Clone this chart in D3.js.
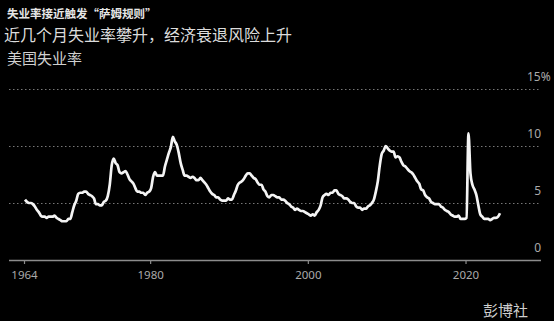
<!DOCTYPE html>
<html>
<head>
<meta charset="utf-8">
<script src="https://cdn.jsdelivr.net/npm/d3@7"></script>
<style>
  html, body { margin: 0; padding: 0; background: #000; }
  svg { display: block; font-family: "Noto Sans CJK SC", "Noto Sans", sans-serif; }
</style>
</head>
<body>
<div id="chart"></div>
<script>
// Quarterly US unemployment rate (%), 1964 Q1 .. 2024 Q2
var startYear = 1964
var rates = [
  5.3, 5.1, 5.0, 5.0,   4.9, 4.7, 4.4, 4.2,   3.9, 3.8, 3.8, 3.7,   3.8, 3.8, 3.8, 3.9,
  3.7, 3.6, 3.5, 3.4,   3.4, 3.4, 3.6, 3.6,   4.2, 4.8, 5.2, 5.8,   5.9, 5.9, 6.0, 6.0,
  5.8, 5.7, 5.6, 5.4,   4.9, 4.9, 4.8, 4.8,   5.1, 5.2, 5.6, 6.6,   8.3, 8.9, 8.5, 8.3,
  7.7, 7.6, 7.7, 7.8,   7.5, 7.1, 6.9, 6.7,   6.3, 6.0, 6.0, 5.9,   5.9, 5.7, 5.9, 6.0,
  6.3, 7.3, 7.7, 7.4,   7.4, 7.4, 7.4, 8.2,   8.8, 9.4, 9.9, 10.8,  10.4, 10.1, 9.4, 8.5,
  7.9, 7.4, 7.4, 7.3,   7.2, 7.3, 7.2, 7.0,   7.0, 7.2, 7.0, 6.8,   6.6, 6.3, 6.0, 5.8,
  5.7, 5.5, 5.5, 5.3,   5.2, 5.2, 5.2, 5.4,   5.3, 5.3, 5.7, 6.1,   6.6, 6.8, 6.9, 7.1,
  7.4, 7.6, 7.6, 7.4,   7.2, 7.1, 6.8, 6.6,   6.6, 6.2, 6.0, 5.6,   5.5, 5.7, 5.7, 5.6,
  5.5, 5.5, 5.3, 5.3,   5.2, 5.0, 4.9, 4.7,   4.6, 4.4, 4.5, 4.4,   4.3, 4.3, 4.2, 4.1,
  4.0, 3.9, 4.0, 3.9,   4.2, 4.4, 4.8, 5.5,   5.7, 5.8, 5.7, 5.9,   5.9, 6.1, 6.1, 5.8,
  5.7, 5.6, 5.4, 5.4,   5.3, 5.1, 5.0, 5.0,   4.7, 4.6, 4.6, 4.4,   4.5, 4.5, 4.7, 4.8,
  5.0, 5.3, 6.0, 6.9,   8.3, 9.3, 9.6, 10.0,  9.8, 9.6, 9.5, 9.5,   9.0, 9.1, 9.0, 8.6,
  8.3, 8.2, 8.0, 7.8,   7.7, 7.5, 7.2, 6.9,   6.7, 6.2, 6.1, 5.7,   5.5, 5.4, 5.1, 5.0,
  4.9, 4.9, 4.9, 4.7,   4.6, 4.4, 4.3, 4.2,   4.0, 3.9, 3.8, 3.8,   3.9, 3.6, 3.6, 3.6,
  3.7, 11.1, 7.6, 6.6,  6.2, 5.7, 4.8, 4.0,   3.8, 3.6, 3.6, 3.6,   3.5, 3.6, 3.7, 3.7,
  3.8, 4.1
]
var yearTicks = [1964, 1980, 2000, 2020]
var rateTicks = [0, 5, 10, 15]

var title = "失业率接近触发“萨姆规则”"
var subtitle = "近几个月失业率攀升，经济衰退风险上升"
var chartLabel = "美国失业率"
var source = "彭博社"

var width = 554, height = 321

var svg = d3.select("#chart")
  .append("svg")
  .attr("width", width)
  .attr("height", height)

svg.append("rect")
  .attr("width", width)
  .attr("height", height)
  .attr("fill", "#000")

// Headings
svg.append("text")
  .attr("x", 7).attr("y", 18)
  .attr("fill", "#e6e6e6")
  .style("font-size", "11.5px")
  .style("font-weight", "bold")
  .text(title)

svg.append("text")
  .attr("x", 4).attr("y", 41)
  .attr("fill", "#dcdcdc")
  .style("font-size", "16px")
  .text(subtitle)

svg.append("text")
  .attr("x", 7).attr("y", 64)
  .attr("fill", "#d0d0d0")
  .style("font-size", "15px")
  .text(chartLabel)

svg.append("text")
  .attr("x", 528).attr("y", 316)
  .attr("text-anchor", "end")
  .attr("fill", "#cfcfcf")
  .style("font-size", "15px")
  .text(source)

// Scales
var data = rates.map(function(v, i) {
  return { t: startYear + i / 4 + 0.125, v: v }
})

var x = d3.scaleLinear()
  .domain([1964, 2024.5])
  .range([24, 501])

var y = d3.scaleLinear()
  .domain([0, 15])
  .range([260, 89])

var gridLeft = 9, gridRight = 541

// Y gridlines + labels (right side, labels above lines)
var yAxis = svg.append("g")
  .attr("transform", "translate(" + gridLeft + ",0)")
  .call(d3.axisRight(y)
    .tickValues(rateTicks)
    .tickSize(gridRight - gridLeft)
    .tickFormat(function(d) { return d }))

yAxis.select(".domain").remove()
yAxis.selectAll(".tick line")
  .attr("stroke", function(d) { return d === 0 ? "#8c8c8c" : "#777" })
  .attr("stroke-width", function(d) { return d === 0 ? 1.6 : 1 })
  .attr("stroke-dasharray", function(d) { return d === 0 ? null : "1.5,2.5" })
yAxis.selectAll(".tick text")
  .attr("x", gridRight - gridLeft)
  .attr("dy", "-0.75em")
  .attr("text-anchor", "end")
  .attr("fill", "#aaa")
  .style("font-size", "12px")
  .style("font-family", "'Noto Sans', sans-serif")
yAxis.selectAll(".tick text")
  .filter(function(d) { return d === 15 })
  .attr("text-anchor", "start")
  .attr("x", gridRight - gridLeft - 14)
  .append("tspan")
  .text("%")

// X axis ticks
var xAxis = svg.append("g")
  .attr("transform", "translate(0," + y(0) + ")")
  .call(d3.axisBottom(x)
    .tickValues(yearTicks)
    .tickSize(4)
    .tickPadding(7)
    .tickFormat(d3.format("d")))

xAxis.select(".domain").remove()
xAxis.selectAll(".tick line")
  .attr("stroke", "#8c8c8c")
  .attr("stroke-width", 1.2)
xAxis.selectAll(".tick text")
  .attr("fill", "#aaa")
  .style("font-size", "11.5px")
  .style("font-family", "'Noto Sans', sans-serif")

// Line
var line = d3.line()
  .x(function(d) { return x(d.t) })
  .y(function(d) { return y(d.v) })
  .curve(d3.curveMonotoneX)

svg.append("path")
  .datum(data)
  .attr("fill", "none")
  .attr("stroke", "#f4f4f4")
  .attr("stroke-width", 2.7)
  .attr("stroke-linejoin", "round")
  .attr("d", line)
</script>
</body>
</html>
